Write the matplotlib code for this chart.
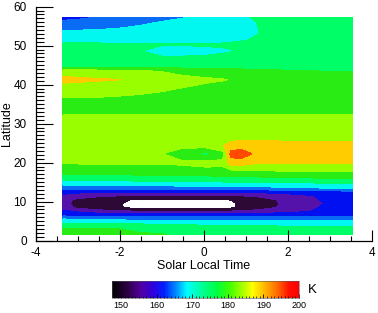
import matplotlib
matplotlib.use('Agg')
import matplotlib.pyplot as plt
from matplotlib.colors import LinearSegmentedColormap, Normalize
from matplotlib.cm import ScalarMappable
from matplotlib.ticker import MultipleLocator

plt.rcParams['font.family'] = ['Liberation Sans', 'DejaVu Sans']
plt.rcParams['axes.unicode_minus'] = False

# solar local time (hours) of the grid columns
local_time = [-3.35, -3.0, -2.5, -2.0, -1.5, -1.0, -0.5, 0.05,
              0.45, 0.65, 0.9, 1.3, 1.8, 2.3, 2.8, 3.55]

# latitude of the grid rows
latitude = [1.5, 3.0, 4.5, 5.5, 6.5, 7.5, 8.5, 9.5, 10.5, 11.5, 12.5,
            13.5, 14.5, 16.0, 18.0, 20.0, 22.3, 24.5, 27.0, 32.0, 33.5,
            36.0, 38.5, 41.3, 43.5, 44.5, 46.5, 48.6, 50.3, 51.5, 53.0,
            54.5, 56.0, 57.3]

# temperature (K), one row per latitude
temperature = [
    [181.5, 181.5, 181.5, 181, 181, 180.5, 179, 178, 178, 178, 178, 178, 178, 177.5, 177, 177],
    [180.3, 180.3, 180.2, 180, 178.5, 178, 177.5, 177, 177, 177, 177, 177, 176.5, 176, 176, 176],
    [175, 175, 175, 175, 174.5, 174, 174, 174, 174, 174, 174, 174, 173.5, 173.5, 173.5, 173.5],
    [170.5, 170, 169.5, 169, 168.5, 168.5, 168.5, 168.5, 168.5, 168.5, 168.5, 168.5, 168.5, 168.5, 168.5, 168.5],
    [164, 163.5, 163, 163, 162.5, 162.5, 162.5, 162.5, 162.5, 162.7, 163, 163, 163.5, 163.5, 164, 164],
    [161.5, 159.5, 157.5, 156, 155.5, 155.5, 155.5, 155.5, 155.5, 155.7, 156, 157, 158, 159.5, 160.5, 162],
    [157.5, 154, 151.5, 150.5, 147.5, 147, 147, 147, 147.5, 149.3, 151, 152.5, 155.5, 158, 160.3, 161],
    [156.5, 153.5, 151, 150.5, 146.5, 146, 146, 146, 146.5, 149, 151, 152, 155, 157.5, 159.8, 161.5],
    [157, 154, 151.5, 150.5, 149.5, 149, 149, 149, 149.5, 150.2, 151.5, 152.5, 155.5, 158, 160.2, 161.5],
    [159, 157.5, 156, 155, 154.5, 154.5, 154.5, 154.5, 154.5, 154.7, 155, 156, 157.5, 159, 160.5, 161.5],
    [161.5, 161, 160.5, 160.3, 160.3, 160.3, 160.3, 160.3, 160.3, 160.3, 160.5, 161, 161.5, 162, 163, 163.5],
    [167, 167, 167, 167, 167.5, 167.5, 167.5, 167.5, 168, 168, 168, 168.5, 169, 169.5, 170, 170.5],
    [171, 171, 171.5, 171.5, 172, 172, 172.5, 172.5, 173, 173, 173, 173, 173.5, 173.5, 174, 174],
    [177, 177, 177.5, 177.5, 178, 178, 178, 178.5, 178.5, 179, 179, 179, 179.5, 179.5, 180, 180.2],
    [182.5, 182.5, 183, 183, 183, 183, 183, 183.5, 184, 184.5, 184.5, 185, 185.5, 185.5, 186, 186],
    [185.5, 185.5, 185.5, 185.5, 185.5, 185.5, 186, 187, 186, 192.5, 193, 190.5, 190.5, 190.5, 190.5, 190.5],
    [186, 186, 186, 186, 185.8, 185.2, 181.5, 178.5, 183, 197, 197.5, 193.5, 192, 191.5, 191.5, 191.5],
    [186, 186, 186, 186, 186, 186, 187, 188, 189.8, 191.5, 192.5, 191.5, 191.5, 191, 191, 191],
    [186, 186, 186, 186, 186, 186, 186, 186.5, 187, 187.5, 187.5, 188, 188, 188, 188, 188],
    [185.3, 185.3, 185.3, 185.3, 185.3, 185.3, 185.3, 185.4, 185.5, 185.5, 185.6, 185.6, 185.6, 185.6, 185.6, 185.6],
    [183.5, 183.5, 183.5, 183.5, 183.5, 183.5, 183.5, 183.3, 183, 183, 183, 183, 183, 183, 183, 183],
    [184.3, 184.3, 184.2, 184, 183.8, 183.5, 183, 183, 182.5, 182.5, 182.5, 182.5, 182.5, 182.5, 182.5, 182.5],
    [187, 187, 186.8, 186.3, 185.8, 185.2, 184.5, 183.5, 183, 182.8, 182.5, 182.5, 182.5, 182.5, 182.5, 182.5],
    [191.5, 191, 190.5, 190.1, 188.5, 187.5, 186.5, 185.8, 185.3, 184.8, 184.3, 183.5, 183, 183, 183, 183],
    [187.5, 187.3, 187, 186.5, 185.5, 184.8, 183.5, 182.5, 182, 181.5, 181.2, 180.8, 180.5, 180.2, 180, 179.8],
    [179.5, 179.5, 179.5, 179.5, 179.5, 179.3, 179, 179, 179, 179, 179, 178.8, 178.8, 178.5, 178.5, 178.5],
    [177.5, 177.5, 177.5, 177, 176.5, 176, 176, 176, 176.5, 177, 177, 177, 177, 177, 177, 177],
    [176.5, 176.5, 176.3, 176, 175.1, 173.5, 173.5, 174, 174.5, 174.8, 175.1, 176, 176.5, 177, 177, 177],
    [176, 176, 176, 175.8, 175.6, 175.3, 175.3, 175.4, 175.5, 175.7, 176, 176.5, 177, 177.5, 177.5, 177.5],
    [173, 173, 173, 173, 173, 173, 173, 173.5, 174, 174.3, 174.7, 175.5, 176.5, 177, 177.5, 177.5],
    [171.5, 171.5, 171.7, 172, 172.3, 172.5, 172.5, 172.5, 173, 173.5, 174, 175, 176, 177, 177.5, 177.5],
    [169, 169.2, 169.5, 170, 170.5, 171, 171.5, 172, 172.5, 173, 173.5, 175, 176, 177, 177.5, 177.5],
    [166, 166.5, 167.5, 168.5, 169.5, 170.2, 171, 172, 172.5, 173, 173.5, 175.2, 176, 177, 177.5, 177.5],
    [163.5, 164, 165.2, 166.5, 168, 169, 169.8, 171.5, 172.5, 173.5, 174.5, 175.5, 176.5, 177.5, 177.5, 177.5],
]

levels = [150, 155, 160, 165, 170, 175, 180, 185, 190, 195, 200]
band_colors = ['#2d0a36', '#5512aa', '#0010f0', '#0a6cf5', '#00f8f0',
               '#00ff66', '#28ec14', '#99ff00', '#ffcc00', '#ff4a00']

# colour bar scale
bar_values = [147.4, 151.5, 155.5, 159, 162, 165.5, 168.5, 173, 177,
              180.5, 185, 187, 190.7, 194.4, 197.2, 200]
bar_colors = ['#000000', '#2a0040', '#5000a0', '#3000e0', '#0020ff',
              '#0090ff', '#00ffff', '#00ff90', '#00ff40', '#40ff00',
              '#c0ff00', '#ffff00', '#ffb000', '#ff6000', '#ff1000', '#ff0000']
bar_ticks = [150, 160, 170, 180, 190, 200]

fig = plt.figure(figsize=(3.78, 3.13), dpi=100)
ax = fig.add_axes([0.0944, 0.231, 0.889, 0.7476])
ax.contourf(local_time, latitude, temperature, levels=levels, colors=band_colors)

ax.set_xlim(-4, 4)
ax.set_ylim(0, 60)
ax.spines['top'].set_visible(False)
ax.spines['right'].set_visible(False)
ax.spines['left'].set_linewidth(0.9)
ax.spines['bottom'].set_linewidth(0.9)
ax.xaxis.set_major_locator(MultipleLocator(2))
ax.xaxis.set_minor_locator(MultipleLocator(0.5))
ax.yaxis.set_major_locator(MultipleLocator(10))
ax.yaxis.set_minor_locator(MultipleLocator(1))
ax.tick_params(axis='x', which='major', direction='in', length=7.7, width=0.8,
               pad=4.5, labelsize=8.5)
ax.tick_params(axis='x', which='minor', direction='in', length=3.6, width=0.8)
ax.tick_params(axis='y', which='major', direction='in', length=12, width=0.8,
               pad=6.5, labelsize=8.5)
ax.tick_params(axis='y', which='minor', direction='in', length=5.5, width=0.8)
ax.set_xlabel('Solar Local Time', fontsize=9, labelpad=1)
ax.set_ylabel('Latitude', fontsize=9, labelpad=0)

# colour bar
nodes = [(v - bar_values[0]) / (bar_values[-1] - bar_values[0]) for v in bar_values]
cmap = LinearSegmentedColormap.from_list('rainbow_k', list(zip(nodes, bar_colors)))
norm = Normalize(vmin=bar_values[0], vmax=bar_values[-1])
cax = fig.add_axes([0.2963, 0.0479, 0.4947, 0.0543])
cb = fig.colorbar(ScalarMappable(norm=norm, cmap=cmap), cax=cax,
                  orientation='horizontal', ticks=bar_ticks)
cb.outline.set_linewidth(0.4)
cb.outline.set_edgecolor('#555555')
cax.xaxis.set_minor_locator(MultipleLocator(1))
cax.tick_params(which='major', direction='in', length=3, width=0.6,
                pad=2.5, labelsize=6.5)
cax.tick_params(which='minor', direction='in', length=1.6, width=0.5)
fig.text(0.815, 0.0735, 'K', fontsize=9.5, va='center', ha='left')

fig.savefig('out.png', dpi=100)
